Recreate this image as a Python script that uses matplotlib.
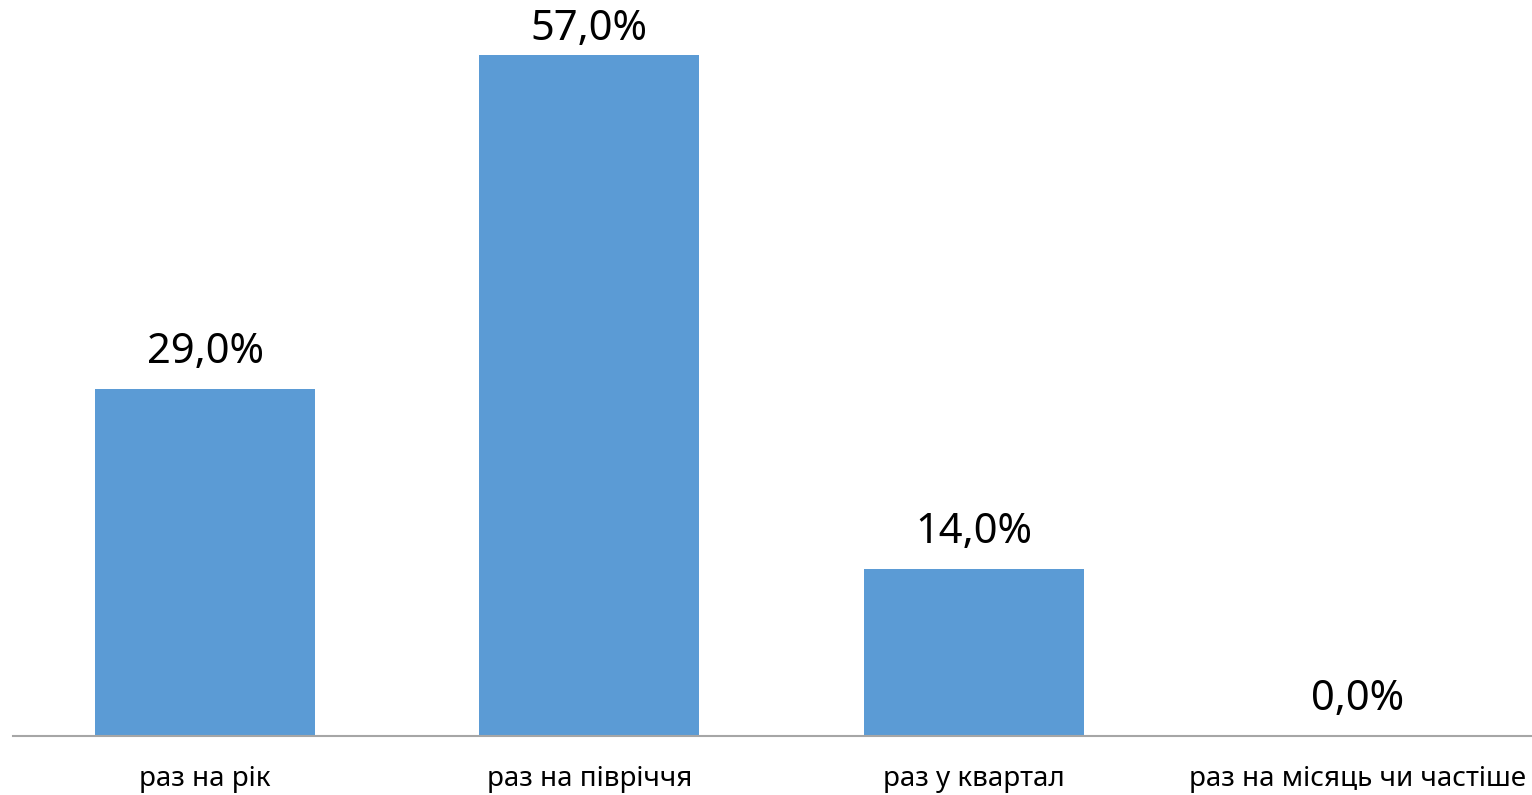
import matplotlib
matplotlib.use("Agg")
import matplotlib.pyplot as plt

categories = ["раз на рік", "раз на півріччя", "раз у квартал", "раз на місяць чи частіше"]
values = [29.0, 57.0, 14.0, 0.0]

plt.rcParams['font.family'] = ['Noto Sans', 'DejaVu Sans']

fig = plt.figure(figsize=(15.32, 7.95), dpi=100)
W, H = 1532, 795
left = 13 / W
width = 1537 / W
bottom = 1 - 736 / H
height = 717 / H
ax = fig.add_axes([left, bottom, width, height])

x = list(range(len(categories)))
ax.bar(x, values, width=0.573, color="#5B9BD5", zorder=2)
ax.set_xlim(-0.5, len(categories) - 0.5)
ax.set_ylim(0, 60)

for s in ["top", "right", "left"]:
    ax.spines[s].set_visible(False)
ax.spines["bottom"].set_color("#A6A6A6")
ax.spines["bottom"].set_linewidth(1.5)
ax.set_yticks([])
ax.set_xticks([])

fig.canvas.draw()
for i, v in enumerate(values):
    # label baseline offset; keep labels inside the figure (top margin ~10 px)
    ypix = ax.transData.transform((i, v))[1]
    off = min(26, H - 10 - 30 - ypix)
    ax.annotate(f"{v:.1f}%".replace(".", ","), xy=(i, v), xytext=(0, off),
                textcoords="offset pixels", ha="center", va="baseline",
                fontsize=30, color="#000000")
    ax.annotate(categories[i], xy=(i, 0), xytext=(0, -50),
                textcoords="offset pixels", ha="center", va="baseline",
                fontsize=20, color="#000000", annotation_clip=False)

fig.savefig("out.png", dpi=100)
